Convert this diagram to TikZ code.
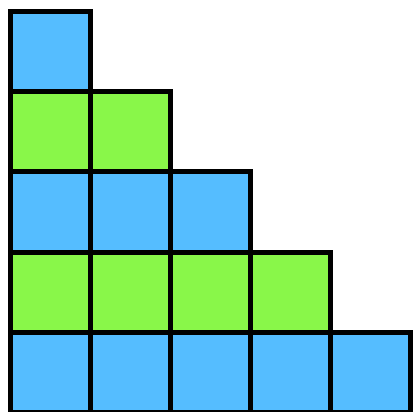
\documentclass[tikz,border=0pt]{standalone}
\usepackage{tikz}
\definecolor{cellblue}{RGB}{85,189,255}
\definecolor{cellgreen}{RGB}{137,247,73}

\begin{document}
\begin{tikzpicture}[x=1pt, y=-1pt, line width=5pt]
    % 画布范围（右、下边框被裁掉一半）
    \useasboundingbox (0, 0) rectangle (413, 412);
    \clip (0, 0) rectangle (413, 412);

    % 阶梯方格：第 r 行有 r+1 个格子，蓝绿交替
    \foreach \r/\c in {0/cellblue, 1/cellgreen, 2/cellblue, 3/cellgreen, 4/cellblue} {
        \foreach \i in {0, ..., \r} {
            \filldraw[fill=\c] (10+80*\i, 12+80*\r) rectangle ++(80, 80);
        }
    }
\end{tikzpicture}
\end{document}
